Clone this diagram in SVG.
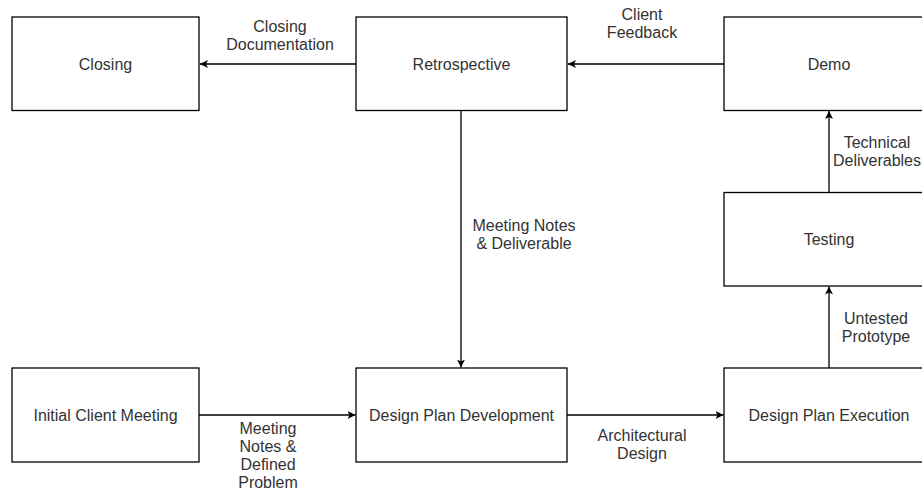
<svg xmlns="http://www.w3.org/2000/svg" width="922" height="491" viewBox="0 0 922 491">
<style>
.box{fill:#fff;stroke:#000;stroke-width:1.3}
.t{font-family:"Liberation Sans",Arial,sans-serif;font-size:16px;fill:#333;text-anchor:middle}
.c{fill:none;stroke:#000;stroke-width:1.3;marker-end:url(#arr)}
</style>
<defs>
<marker id="arr" markerUnits="userSpaceOnUse" markerWidth="10" markerHeight="10" refX="8" refY="4" orient="auto">
<path d="M0,0 L8,4 L0,8 L2,4 z" fill="#000"/>
</marker>
</defs>
<rect width="922" height="491" fill="#fff"/>
<g id="connectors">
<line class="c" x1="356" y1="64" x2="200" y2="64"/>
<line class="c" x1="724" y1="64" x2="568" y2="64"/>
<line class="c" x1="829" y1="192.5" x2="829" y2="111"/>
<line class="c" x1="829" y1="368" x2="829" y2="286.5"/>
<line class="c" x1="461" y1="110.5" x2="461" y2="367.5"/>
<line class="c" x1="199" y1="415" x2="355.5" y2="415"/>
<line class="c" x1="567" y1="415" x2="723.5" y2="415"/>
<text class="t" x="280" y="31.5">Closing<tspan x="280" dy="18.5">Documentation</tspan></text>
<text class="t" x="642" y="19.5">Client<tspan x="642" dy="18.5">Feedback</tspan></text>
<text class="t" x="877" y="148">Technical<tspan x="877" dy="18">Deliverables</tspan></text>
<text class="t" x="524" y="231">Meeting Notes<tspan x="524" dy="18">&amp; Deliverable</tspan></text>
<text class="t" x="876" y="324">Untested<tspan x="876" dy="18">Prototype</tspan></text>
<text class="t" x="642" y="441">Architectural<tspan x="642" dy="18">Design</tspan></text>
<text class="t" x="268" y="433.5">Meeting<tspan x="268" dy="18">Notes &amp;</tspan><tspan x="268" dy="18">Defined</tspan><tspan x="268" dy="18">Problem</tspan></text>
</g>
<g id="closing"><rect class="box" x="12" y="17" width="187" height="93.5"/><text class="t" x="105.5" y="69.5">Closing</text></g>
<g id="retrospective"><rect class="box" x="356" y="17" width="211" height="93.5"/><text class="t" x="461.5" y="69.5">Retrospective</text></g>
<g id="demo"><rect class="box" x="724" y="17" width="211" height="93.5"/><text class="t" x="829" y="69.5">Demo</text></g>
<g id="testing"><rect class="box" x="724" y="192.5" width="211" height="93.5"/><text class="t" x="829" y="244.5">Testing</text></g>
<g id="initial"><rect class="box" x="12" y="368" width="187" height="94"/><text class="t" x="105.5" y="420.5">Initial Client Meeting</text></g>
<g id="dpd"><rect class="box" x="356" y="368" width="211" height="94"/><text class="t" x="461.5" y="420.5">Design Plan Development</text></g>
<g id="dpe"><rect class="box" x="724" y="368" width="211" height="94"/><text class="t" x="829" y="420.5">Design Plan Execution</text></g>
</svg>
